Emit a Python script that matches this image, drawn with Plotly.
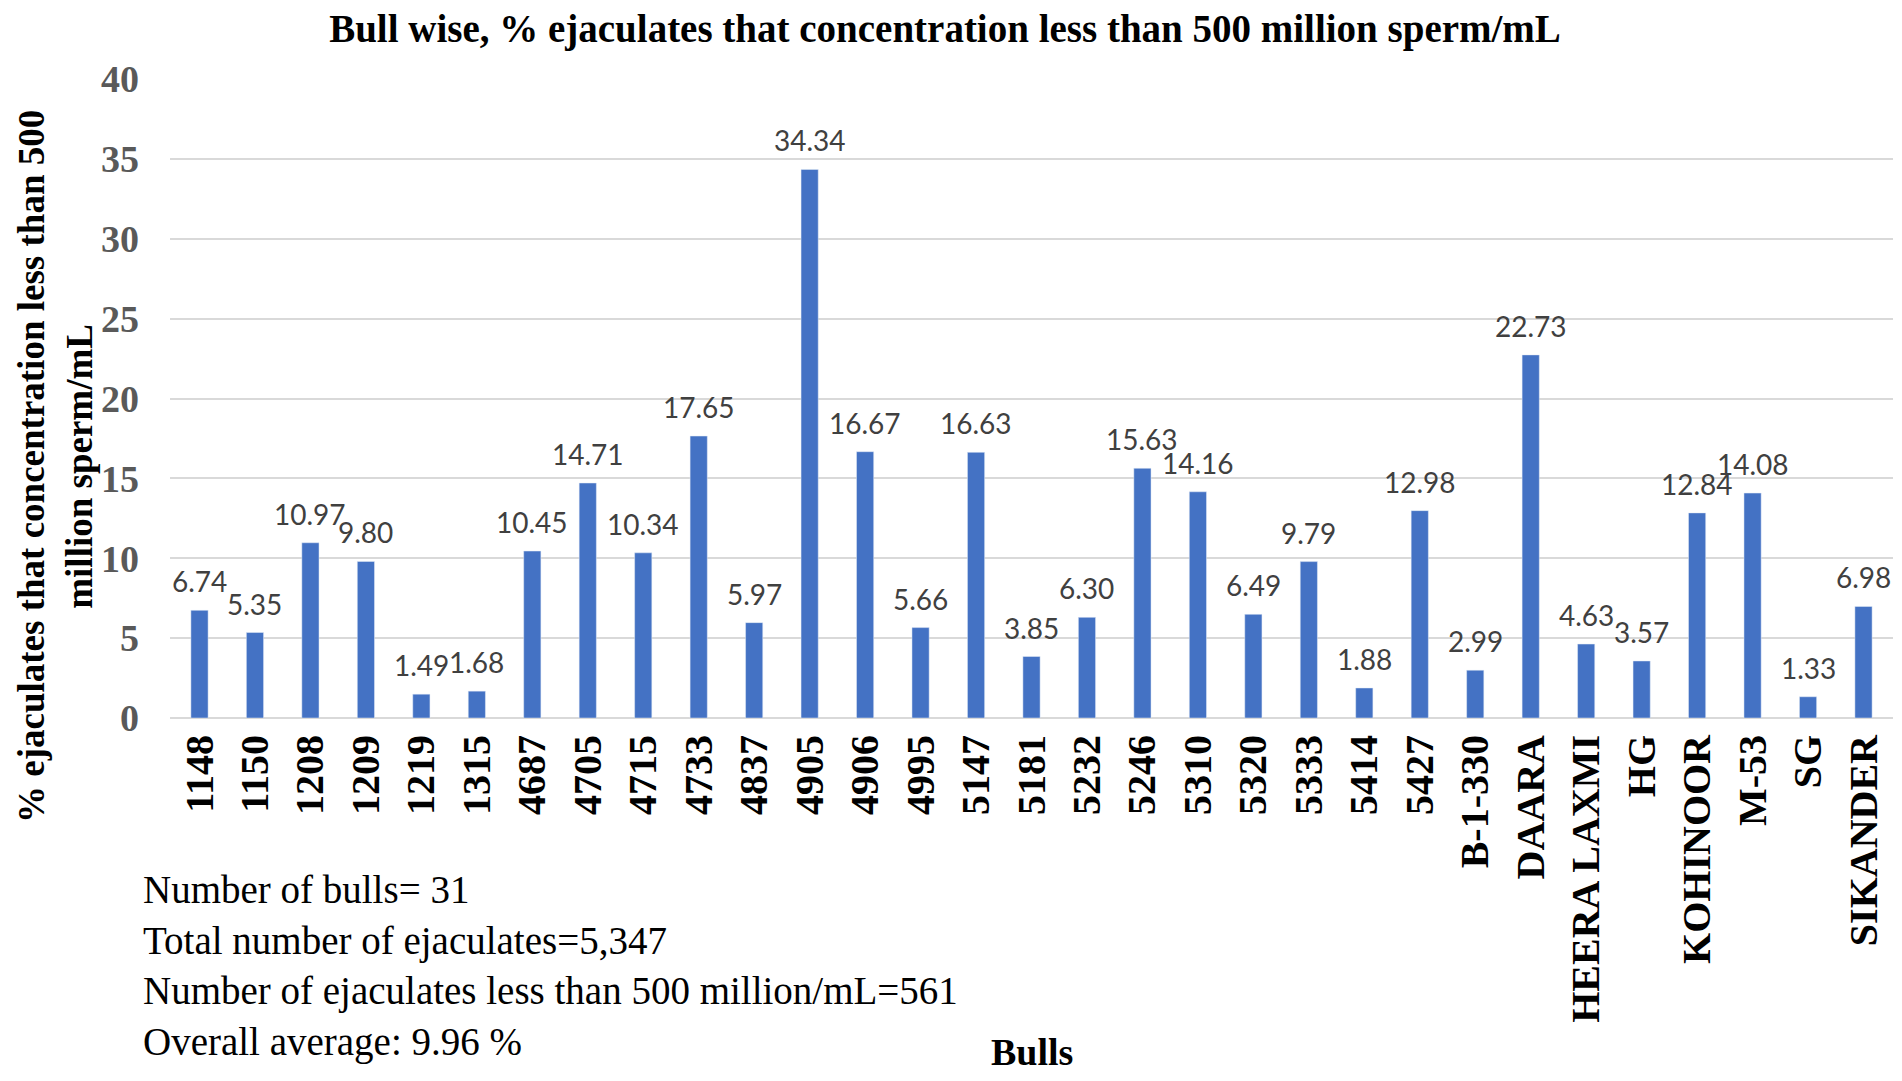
import plotly.graph_objects as go

# bulls and % of ejaculates below 500 million sperm/mL
bulls = ["1148", "1150", "1208", "1209", "1219", "1315", "4687", "4705", "4715", "4733",
         "4837", "4905", "4906", "4995", "5147", "5181", "5232", "5246", "5310", "5320",
         "5333", "5414", "5427", "B-1-330", "DAARA", "HEERA LAXMI", "HG", "KOHINOOR",
         "M-53", "SG", "SIKANDER"]
pct_low = [6.74, 5.35, 10.97, 9.80, 1.49, 1.68, 10.45, 14.71, 10.34, 17.65,
           5.97, 34.34, 16.67, 5.66, 16.63, 3.85, 6.30, 15.63, 14.16, 6.49,
           9.79, 1.88, 12.98, 2.99, 22.73, 4.63, 3.57, 12.84,
           14.08, 1.33, 6.98]
y_ticks = [0, 5, 10, 15, 20, 25, 30, 35, 40]

summary_lines = ["Number of bulls= 31",
                 "Total number of ejaculates=5,347",
                 "Number of ejaculates less than 500 million/mL=561",
                 "Overall average: 9.96 %"]

serif = "Liberation Serif, Times New Roman, serif"

# the page body has an 8px margin, so the figure is a bit smaller than the window
W, H = 1886, 1065
L, T, B, R = 162, 71, 355, 1
PW, PH = W - L - R, H - T - B


def px(fx):
    return (fx - L) / PW


def py(fy):
    return (T + PH - fy) / PH


fig = go.Figure(go.Bar(
    x=bulls,
    y=pct_low,
    marker_color="#4472C4",
    hovertemplate="%{x}: %{y:.2f}<extra></extra>",
))

# data labels above bars (category index, since names like "1148" look numeric)
for i, v in enumerate(pct_low):
    fig.add_annotation(
        x=i, y=v, text=f"{v:.2f}",
        xanchor="center", yanchor="bottom", yshift=10,
        showarrow=False,
        font=dict(family="Lato, Noto Sans, sans-serif", size=28, color="#404040"),
    )

fig.update_layout(
    width=W, height=H,
    paper_bgcolor="white", plot_bgcolor="white",
    margin=dict(l=L, r=R, t=T, b=B),
    bargap=0.69,
    showlegend=False,
    title=dict(text="<b>Bull wise, % ejaculates that concentration less than 500 million sperm/mL</b>",
               x=937 / W, xref="container", xanchor="center",
               y=1 - 20 / H, yref="container", yanchor="middle",
               font=dict(family=serif, size=39, color="black")),
)

fig.update_xaxes(
    type="category",
    tickangle=-90,
    ticks="",
    ticklabelstandoff=8,
    tickfont=dict(family=serif, size=40, color="black", weight="bold"),
    showline=False,
    showgrid=False,
)

fig.update_yaxes(
    range=[0, 40],
    tickvals=y_ticks,
    ticks="",
    ticklabelstandoff=30,
    tickfont=dict(family=serif, size=38, color="#595959", weight="bold"),
    showgrid=True, gridcolor="#D9D9D9", gridwidth=2,
    zeroline=True, zerolinecolor="#D9D9D9", zerolinewidth=2,
    showline=False,
)

# y-axis title
fig.add_annotation(
    text="<b>% ejaculates that concentration less than 500<br>million sperm/mL</b>",
    xref="paper", yref="paper",
    x=px(47), y=py(459),
    xanchor="center", yanchor="middle",
    textangle=-90, showarrow=False,
    font=dict(family=serif, size=37, color="black"),
)

# summary block under the chart
fig.add_annotation(
    text="<br>".join(summary_lines),
    xref="paper", yref="paper",
    x=px(133), y=py(858),
    xanchor="left", yanchor="top", align="left",
    showarrow=False,
    font=dict(family=serif, size=39, color="black"),
)

fig.add_annotation(
    text="<b>Bulls</b>",
    xref="paper", yref="paper",
    x=px(1024), y=py(H), yshift=-2,
    xanchor="center", yanchor="bottom",
    showarrow=False,
    font=dict(family=serif, size=38, color="black"),
)

fig.write_html("out.html")
